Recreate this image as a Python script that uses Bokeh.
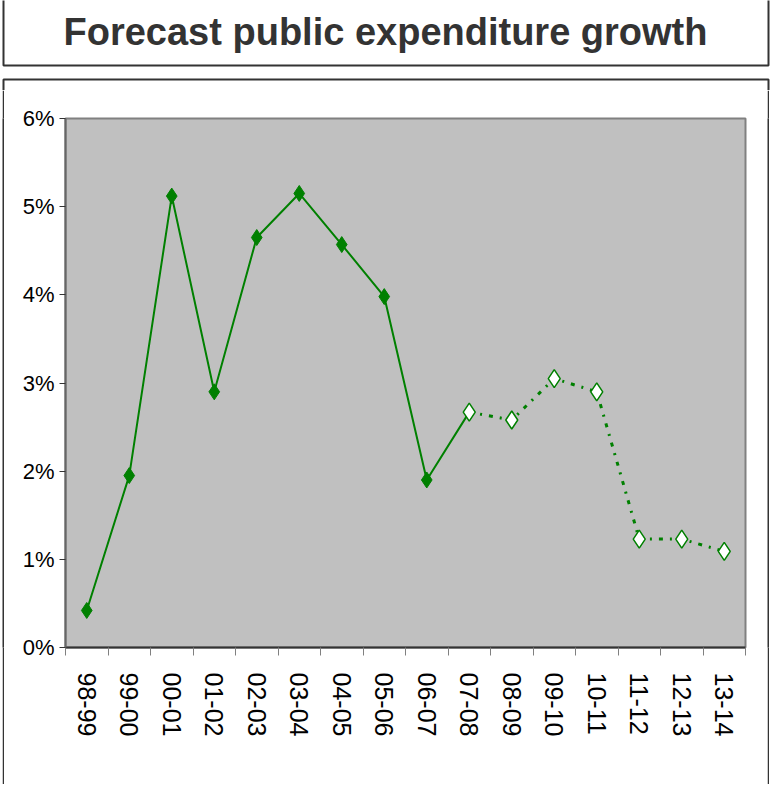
from bokeh.plotting import figure
from bokeh.layouts import column, row, Spacer
from bokeh.models import FixedTicker, PrintfTickFormatter, Range1d
from bokeh.core.properties import value
from bokeh.embed import file_html
from bokeh.resources import INLINE

title_text = "Forecast public expenditure growth"
years = ["98-99", "99-00", "00-01", "01-02", "02-03", "03-04", "04-05", "05-06",
         "06-07", "07-08", "08-09", "09-10", "10-11", "11-12", "12-13", "13-14"]
growth_pct = [0.42, 1.95, 5.12, 2.90, 4.65, 5.15, 4.57, 3.98,
              1.90, 2.67, 2.58, 3.05, 2.90, 1.23, 1.23, 1.09]
n_outturn = 9          # first 9 years are outturn (filled markers, solid line)
y_ticks = [0, 1, 2, 3, 4, 5, 6]

GREEN = "#008000"
DARK = "#333333"
W = 770


def blank(width, height, colour="white", x0=0, y0=0):
    """A blank figure; data coordinates equal page pixels (y downwards)."""
    f = figure(width=width, height=height, output_backend="svg", toolbar_location=None,
               title=None, x_range=Range1d(x0, x0 + width),
               y_range=Range1d(y0 + height, y0),
               x_axis_type=None, y_axis_type=None, min_border=0)
    f.outline_line_color = None
    f.background_fill_color = colour
    f.border_fill_color = colour
    return f


# ---- top strip: title box and top edge of the chart box
TOP_H = 90
fa = blank(W, TOP_H)
fa.multi_line(xs=[[3, 3, 768, 768], [3, 3, 768, 768]],
              ys=[[-10, 65, 65, -10], [TOP_H + 5, 79, 79, TOP_H + 5]],
              line_color=DARK, line_width=2)
fa.text(x=[W / 2], y=[31], text=[title_text], text_align="center",
        text_baseline="alphabetic", text_font=value("Liberation Sans"),
        text_font_style="bold", text_font_size="38px", text_color=DARK)

# ---- middle: left edge, chart, right edge
MID_H = 694
BOT_Y = TOP_H + MID_H          # 784
edge_l = blank(2, MID_H, DARK)
edge_r = blank(2, MID_H, DARK)

xpos = list(range(len(years)))
P_LEFT, P_W = 4, 763
p = figure(width=P_W, height=MID_H, output_backend="svg", toolbar_location=None,
           title=None,
           x_range=Range1d(-0.5, len(years) - 0.5), y_range=Range1d(0, 6),
           min_border_left=65 - P_LEFT, min_border_right=(P_LEFT + P_W) - 745,
           min_border_top=118 - TOP_H, min_border_bottom=BOT_Y - 647)
p.background_fill_color = "#C0C0C0"
p.border_fill_color = "white"
p.outline_line_color = "#808080"
p.outline_line_width = 2
p.xgrid.visible = False
p.ygrid.visible = False

ya = p.yaxis[0]
ya.ticker = FixedTicker(ticks=y_ticks, minor_ticks=[])
ya.formatter = PrintfTickFormatter(format="%d%%")
ya.major_tick_out = 6
ya.major_tick_in = 0
ya.minor_tick_out = 0
ya.axis_line_color = "#666666"
ya.axis_line_width = 2
ya.major_tick_line_color = DARK
ya.major_label_text_font = "Liberation Sans"
ya.major_label_text_font_size = "22px"
ya.major_label_text_color = "black"
ya.major_label_standoff = 5

xa = p.xaxis[0]
xa.ticker = FixedTicker(ticks=xpos, minor_ticks=[i - 0.5 for i in range(len(years) + 1)])
xa.major_label_overrides = {i: years[i] for i in xpos}
xa.major_tick_out = 0
xa.major_tick_in = 0
xa.minor_tick_out = 8
xa.minor_tick_in = 0
xa.minor_tick_line_color = "#808080"
xa.axis_line_color = DARK
xa.axis_line_width = 2
xa.major_label_orientation = "vertical"
xa.major_label_text_font = "Liberation Sans"
xa.major_label_text_font_size = "25px"
xa.major_label_text_color = "black"
xa.major_label_standoff = 17

p.line(xpos[:n_outturn + 1], growth_pct[:n_outturn + 1], line_color=GREEN, line_width=2)
p.line(xpos[n_outturn:], growth_pct[n_outturn:], line_color=GREEN, line_width=3,
       line_dash="4 7 2 7")
p.scatter(xpos[:n_outturn], growth_pct[:n_outturn], marker="diamond", size=16,
          fill_color=GREEN, line_color=GREEN, line_width=1)
p.scatter(xpos[n_outturn:], growth_pct[n_outturn:], marker="diamond", size=18,
          fill_color="white", line_color=GREEN, line_width=1.5)

# ---- bottom edge of the chart box
edge_b = blank(767, 2, DARK)

layout = column(
    fa,
    row(Spacer(width=2, height=MID_H), edge_l, p, edge_r, Spacer(width=1, height=MID_H)),
    row(Spacer(width=2, height=2), edge_b, Spacer(width=1, height=2)),
    Spacer(width=W, height=1),
)
open("out.html", "w").write(file_html(layout, INLINE))
